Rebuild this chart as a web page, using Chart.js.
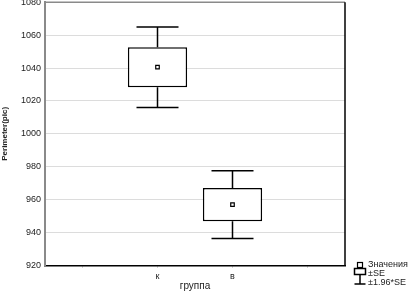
<!DOCTYPE html>
<html>
<head>
<meta charset="utf-8">
<script src="https://cdn.jsdelivr.net/npm/chart.js@4/dist/chart.umd.min.js"></script>
<style>
  html, body { margin: 0; padding: 0; background: #fff; overflow: hidden; }
  #wrap { width: 410px; height: 295px; overflow: hidden; }
  /* Chart.js keeps room for the top tick label; the reference clips it, so shift up */
  #chart { display: block; margin-top: -3px; }
</style>
</head>
<body>
<div id="wrap"><canvas id="chart" width="410" height="298"></canvas></div>
<script>
// values
const groups = ['', 'к', 'в', ''];
const means = [null, 1040.5, 957, null];
const seHalf = [null, 12.2, 10.1, null];
const ciHalf = [null, 24.5, 20.6, null];
const yTicks = [920, 940, 960, 980, 1000, 1020, 1040, 1060, 1080];

const FONT = "'Liberation Sans', Arial, sans-serif";
const SHIFT = 3;

// whiskers (±1.96*SE) drawn through the chart's scales
const whiskers = {
  id: 'whiskers',
  beforeDatasetsDraw(chart) {
    const { ctx, scales: { x, y } } = chart;
    const half = (x.getPixelForValue(1) - x.getPixelForValue(0)) * 0.28;
    ctx.save();
    ctx.strokeStyle = '#000';
    ctx.lineWidth = 1.5;
    means.forEach((m, i) => {
      if (m == null) return;
      const px = x.getPixelForValue(i);
      const hi = y.getPixelForValue(m + ciHalf[i]);
      const lo = y.getPixelForValue(m - ciHalf[i]);
      const bh = y.getPixelForValue(m + seHalf[i]);
      const bl = y.getPixelForValue(m - seHalf[i]);
      ctx.beginPath();
      ctx.moveTo(px, hi); ctx.lineTo(px, bh);
      ctx.moveTo(px, bl); ctx.lineTo(px, lo);
      ctx.moveTo(px - half, hi); ctx.lineTo(px + half, hi);
      ctx.moveTo(px - half, lo); ctx.lineTo(px + half, lo);
      ctx.stroke();
    });
    ctx.restore();
  }
};

// frame top/right and the legend in the lower right corner
const frameAndLegend = {
  id: 'frameAndLegend',
  afterDraw(chart) {
    const { ctx, chartArea: a } = chart;
    ctx.save();
    ctx.lineWidth = 1.5;
    ctx.strokeStyle = '#8a8a8a';
    ctx.beginPath();
    ctx.moveTo(a.left, a.top); ctx.lineTo(a.right, a.top);
    ctx.stroke();
    ctx.strokeStyle = '#000';
    ctx.beginPath();
    ctx.moveTo(a.right, a.top); ctx.lineTo(a.right, a.bottom);
    ctx.stroke();

    // legend (page coords + shift)
    ctx.translate(0, SHIFT);
    ctx.fillStyle = '#fff';
    ctx.lineWidth = 1.2;
    ctx.fillRect(357.5, 262.5, 5, 5);
    ctx.strokeRect(357.5, 262.5, 5, 5);
    ctx.lineWidth = 1.5;
    ctx.strokeRect(354.5, 268.5, 11, 6);
    ctx.beginPath();
    ctx.moveTo(360, 274.5); ctx.lineTo(360, 284);
    ctx.moveTo(354.5, 284); ctx.lineTo(365.5, 284);
    ctx.stroke();

    ctx.fillStyle = '#222';
    ctx.font = '9px ' + FONT;
    ctx.textBaseline = 'middle';
    ctx.fillText('Значения', 368, 265);
    ctx.fillText('±SE', 368, 273.5);
    ctx.fillText('±1.96*SE', 368, 282.5);
    ctx.restore();
  }
};

new Chart(document.getElementById('chart'), {
  data: {
    labels: groups,
    datasets: [
      {
        type: 'line',
        label: 'Значения',
        data: means,
        showLine: false,
        pointStyle: 'rect',
        pointRadius: 2.5,
        pointBackgroundColor: '#fff',
        pointBorderColor: '#000',
        pointBorderWidth: 1.2,
        order: 0
      },
      {
        type: 'bar',
        label: '±SE',
        data: means.map((m, i) => m == null ? null : [m - seHalf[i], m + seHalf[i]]),
        backgroundColor: '#fff',
        borderColor: '#000',
        borderWidth: 1.5,
        borderSkipped: false,
        barPercentage: 0.79,
        categoryPercentage: 1,
        order: 1
      }
    ]
  },
  options: {
    responsive: false,
    animation: false,
    layout: { padding: { top: 0, right: 65, bottom: 0, left: 0 } },
    plugins: {
      legend: { display: false },
      tooltip: { enabled: false }
    },
    scales: {
      x: {
        type: 'category',
        offset: true,
        grid: {
          offset: false,
          drawOnChartArea: false,
          tickLength: 2,
          color: '#aaa'
        },
        border: { color: '#000', width: 1.5 },
        ticks: { color: '#222', font: { family: FONT, size: 9 }, padding: 4, maxRotation: 0 },
        title: {
          display: true,
          text: 'группа',
          color: '#222',
          font: { family: FONT, size: 10 },
          padding: { top: 0, bottom: 3 }
        },
        afterFit(scale) {
          scale.height = 29.5;
          scale.paddingLeft = 0;
          scale.paddingRight = 0;
        }
      },
      y: {
        min: 920,
        max: 1080,
        afterBuildTicks(scale) {
          scale.ticks = yTicks.map(v => ({ value: v }));
        },
        grid: { color: '#dcdcdc', lineWidth: 1, drawTicks: false },
        border: { color: '#8a8a8a', width: 2 },
        ticks: {
          color: '#222',
          font: { family: FONT, size: 9 },
          padding: 4,
          callback: v => String(v)
        },
        title: {
          display: true,
          text: 'Perimeter(pic)',
          color: '#222',
          font: { family: FONT, size: 8, weight: 'bold' },
          padding: 0
        },
        afterFit(scale) {
          scale.width = 45;
          scale.paddingTop = 0;
          scale.paddingBottom = 0;
        }
      }
    }
  },
  plugins: [whiskers, frameAndLegend]
});
</script>
</body>
</html>
